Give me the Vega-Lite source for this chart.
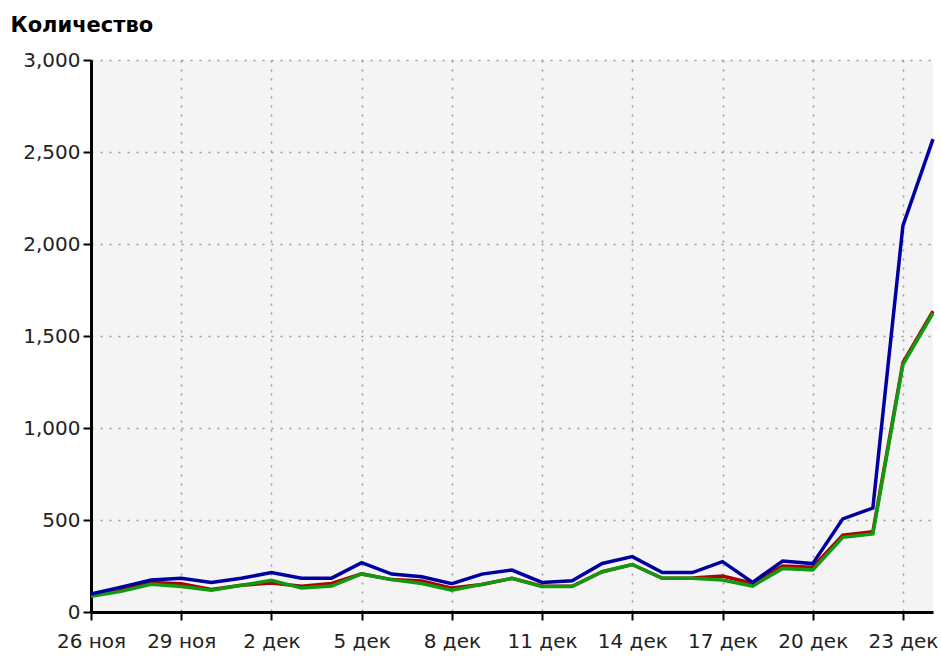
{
  "$schema": "https://vega.github.io/schema/vega-lite/v6.json",
  "width": 842,
  "height": 552,
  "autosize": {"type": "none"},
  "padding": {"left": 91, "top": 60, "right": 8, "bottom": 44},
  "background": "white",
  "config": {
    "view": {"fill": "#f4f4f4", "stroke": null},
    "font": "DejaVu Sans"
  },
  "data": {
    "values": [
      {"date": "2014-11-26", "red": 90, "green": 85, "blue": 98},
      {"date": "2014-11-27", "red": 127, "green": 112, "blue": 135},
      {"date": "2014-11-28", "red": 160, "green": 151, "blue": 174},
      {"date": "2014-11-29", "red": 154, "green": 138, "blue": 183},
      {"date": "2014-11-30", "red": 122, "green": 118, "blue": 161},
      {"date": "2014-12-01", "red": 145, "green": 145, "blue": 183},
      {"date": "2014-12-02", "red": 158, "green": 172, "blue": 215},
      {"date": "2014-12-03", "red": 140, "green": 130, "blue": 184},
      {"date": "2014-12-04", "red": 155, "green": 141, "blue": 184},
      {"date": "2014-12-05", "red": 207, "green": 207, "blue": 268},
      {"date": "2014-12-06", "red": 176, "green": 176, "blue": 206},
      {"date": "2014-12-07", "red": 168, "green": 155, "blue": 192},
      {"date": "2014-12-08", "red": 130, "green": 118, "blue": 154},
      {"date": "2014-12-09", "red": 150, "green": 150, "blue": 206},
      {"date": "2014-12-10", "red": 183, "green": 183, "blue": 228},
      {"date": "2014-12-11", "red": 140, "green": 138, "blue": 161},
      {"date": "2014-12-12", "red": 140, "green": 138, "blue": 170},
      {"date": "2014-12-13", "red": 219, "green": 219, "blue": 264},
      {"date": "2014-12-14", "red": 258, "green": 258, "blue": 301},
      {"date": "2014-12-15", "red": 183, "green": 183, "blue": 214},
      {"date": "2014-12-16", "red": 185, "green": 183, "blue": 214},
      {"date": "2014-12-17", "red": 196, "green": 174, "blue": 274},
      {"date": "2014-12-18", "red": 156, "green": 141, "blue": 161},
      {"date": "2014-12-19", "red": 250, "green": 237, "blue": 277},
      {"date": "2014-12-20", "red": 243, "green": 228, "blue": 263},
      {"date": "2014-12-21", "red": 418, "green": 406, "blue": 506},
      {"date": "2014-12-22", "red": 436, "green": 424, "blue": 565},
      {"date": "2014-12-23", "red": 1355, "green": 1345, "blue": 2100},
      {"date": "2014-12-24", "red": 1635, "green": 1625, "blue": 2570}
    ]
  },
  "transform": [
    {"fold": ["red", "green", "blue"], "as": ["series", "value"]}
  ],
  "mark": {"type": "line", "strokeWidth": 3.5, "interpolate": "linear"},
  "encoding": {
    "x": {
      "field": "date",
      "type": "temporal",
      "scale": {
        "type": "utc",
        "domain": [
          {"year": 2014, "month": 11, "date": 26, "utc": true},
          {"year": 2014, "month": 12, "date": 24, "utc": true}
        ]
      },
      "axis": {
        "title": null,
        "values": [
          {"year": 2014, "month": 11, "date": 26, "utc": true},
          {"year": 2014, "month": 11, "date": 29, "utc": true},
          {"year": 2014, "month": 12, "date": 2, "utc": true},
          {"year": 2014, "month": 12, "date": 5, "utc": true},
          {"year": 2014, "month": 12, "date": 8, "utc": true},
          {"year": 2014, "month": 12, "date": 11, "utc": true},
          {"year": 2014, "month": 12, "date": 14, "utc": true},
          {"year": 2014, "month": 12, "date": 17, "utc": true},
          {"year": 2014, "month": 12, "date": 20, "utc": true},
          {"year": 2014, "month": 12, "date": 23, "utc": true}
        ],
        "labelExpr": "utcdate(datum.value) + ' ' + (utcmonth(datum.value) == 10 ? 'ноя' : 'дек')",
        "labelFontSize": 20,
        "labelColor": "#222222",
        "labelPadding": 11,
        "labelFlush": false,
        "labelOverlap": false,
        "domainColor": "#000000",
        "domainWidth": 3,
        "tickColor": "#000000",
        "tickWidth": 2,
        "tickSize": 8,
        "grid": true,
        "gridColor": "#999999",
        "gridWidth": 1.5,
        "gridDash": [2, 7]
      }
    },
    "y": {
      "field": "value",
      "type": "quantitative",
      "scale": {"domain": [0, 3000], "nice": false},
      "axis": {
        "values": [0, 500, 1000, 1500, 2000, 2500, 3000],
        "format": ",d",
        "labelFontSize": 20,
        "labelColor": "#222222",
        "labelPadding": 3,
        "domainColor": "#000000",
        "domainWidth": 3,
        "tickColor": "#000000",
        "tickWidth": 2,
        "tickSize": 8,
        "grid": true,
        "gridColor": "#999999",
        "gridWidth": 1.5,
        "gridDash": [2, 7],
        "title": "Количество",
        "titleAngle": 0,
        "titleX": -81,
        "titleY": -29,
        "titleAlign": "left",
        "titleBaseline": "alphabetic",
        "titleFontSize": 21,
        "titleFontWeight": "bold",
        "titleColor": "#000000"
      }
    },
    "color": {
      "field": "series",
      "type": "nominal",
      "scale": {"domain": ["red", "green", "blue"], "range": ["#b00000", "#109a10", "#0000a0"]},
      "legend": null
    }
  }
}
